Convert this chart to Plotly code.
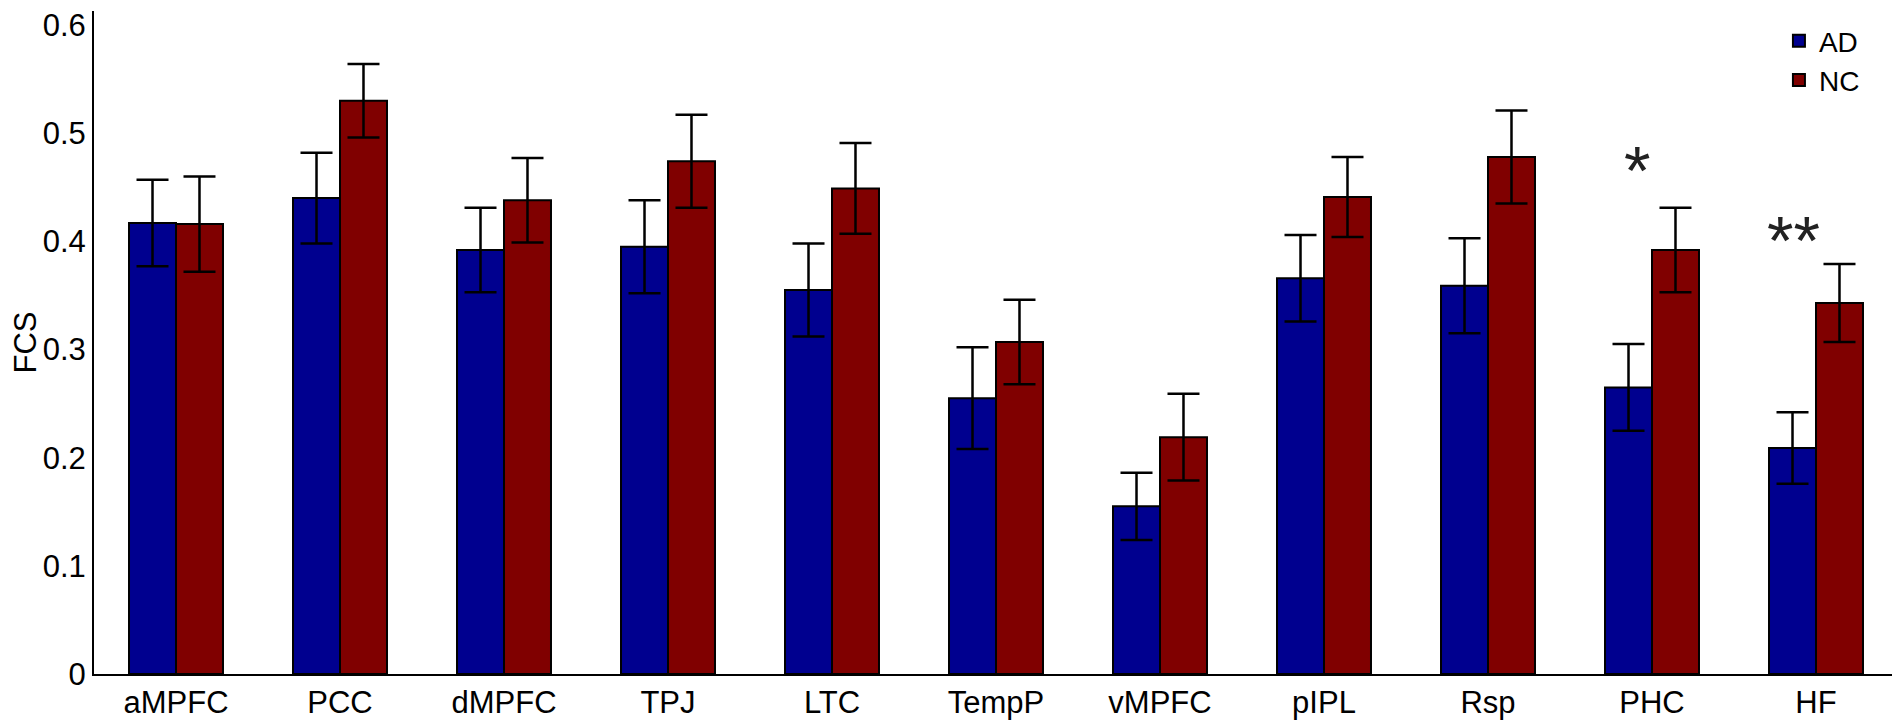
import plotly.graph_objects as go

regions = ["aMPFC", "PCC", "dMPFC", "TPJ", "LTC", "TempP", "vMPFC", "pIPL", "Rsp", "PHC", "HF"]

ad_fcs = [0.417, 0.440, 0.392, 0.395, 0.355, 0.255, 0.155, 0.366, 0.359, 0.265, 0.209]
ad_err = [0.040, 0.042, 0.039, 0.043, 0.043, 0.047, 0.031, 0.040, 0.044, 0.040, 0.033]

nc_fcs = [0.416, 0.530, 0.438, 0.474, 0.449, 0.307, 0.219, 0.441, 0.478, 0.392, 0.343]
nc_err = [0.044, 0.034, 0.039, 0.043, 0.042, 0.039, 0.040, 0.037, 0.043, 0.039, 0.036]

# significance marks (AD vs NC)
sig_regions = ["PHC", "HF"]
sig_marks = ["*", "**"]
sig_y = [0.466, 0.401]

font = "Liberation Sans, Arial, sans-serif"

fig = go.Figure()
fig.add_trace(go.Bar(
    x=regions, y=ad_fcs, name="AD",
    marker=dict(color="#00008F", line=dict(color="black", width=2)),
    error_y=dict(type="data", array=ad_err, color="black", thickness=2.5, width=16),
))
fig.add_trace(go.Bar(
    x=regions, y=nc_fcs, name="NC",
    marker=dict(color="#800000", line=dict(color="black", width=2)),
    error_y=dict(type="data", array=nc_err, color="black", thickness=2.5, width=16),
))

for reg, mark, yy in zip(sig_regions, sig_marks, sig_y):
    xi = regions.index(reg) - 0.09 - 0.05 * (len(mark) - 1)
    fig.add_annotation(x=xi, y=yy, text=mark, showarrow=False,
                       font=dict(family=font, size=68, color="#222222"))

# page body keeps an 8px margin, so the figure is a bit smaller than the window
fig.update_layout(
    width=1892, height=712,
    margin=dict(l=86, r=2, t=0, b=42),
    plot_bgcolor="white", paper_bgcolor="white",
    barmode="group", bargap=0.427, bargroupgap=0,
    font=dict(family=font, size=30, color="black"),
    showlegend=True,
    legend=dict(x=0.934, y=0.9925, xanchor="left", yanchor="top",
                font=dict(size=28), bgcolor="rgba(0,0,0,0)", tracegroupgap=0),
)
fig.update_xaxes(
    range=[-0.5, 10.5], showline=True, linecolor="black", linewidth=2,
    ticks="", showgrid=False, tickfont=dict(size=31),
)
fig.update_yaxes(
    range=[0, 0.613], dtick=0.1, showline=True, linecolor="black", linewidth=2,
    ticks="", showgrid=False, zeroline=False, tickfont=dict(size=31),
    ticklabeloverflow="allow",
    title=dict(text="FCS", font=dict(size=31), standoff=12),
)

fig.write_html("out.html")
